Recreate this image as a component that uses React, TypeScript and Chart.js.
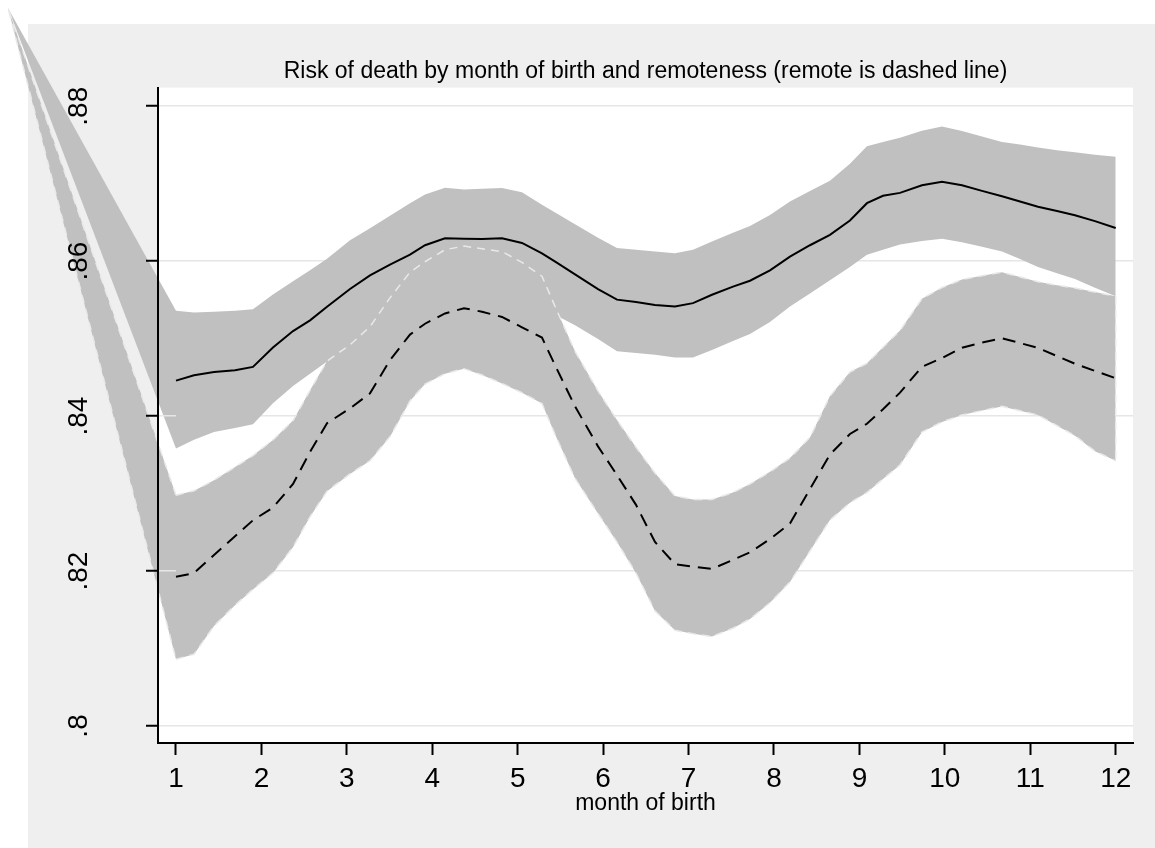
import React, { useEffect, useRef } from 'react';
import { Chart, registerables } from 'chart.js';

Chart.register(...registerables);

const FONT_FAMILY = '"Liberation Sans", Arial, Helvetica, sans-serif';

const TITLE = 'Risk of death by month of birth and remoteness (remote is dashed line)';
const X_AXIS_TITLE = 'month of birth';

const X_TICKS = [1, 2, 3, 4, 5, 6, 7, 8, 9, 10, 11, 12];
const Y_TICKS = [0.8, 0.82, 0.84, 0.86, 0.88];
const Y_TICK_LABELS = ['.8', '.82', '.84', '.86', '.88'];

const MONTHS = [
  1.0, 1.211, 1.445, 1.691, 1.901, 2.135, 2.37, 2.569, 2.768, 3.037,
  3.271, 3.505, 3.739, 3.915, 4.149, 4.371, 4.582, 4.816, 5.05, 5.284,
  5.448, 5.671, 5.94, 6.162, 6.385, 6.607, 6.841, 7.052, 7.274, 7.52,
  7.719, 7.953, 8.187, 8.421, 8.655, 8.889, 9.088, 9.276, 9.475, 9.732,
  9.967, 10.201, 10.435, 10.669, 10.88, 11.09, 11.313, 11.523, 11.757, 12.0,
];

// not remote (solid line) and its confidence band
const RURAL_MEAN = [
  0.84458, 0.84526, 0.8457, 0.84591, 0.84635, 0.84884, 0.85097, 0.85236, 0.85412, 0.85641,
  0.85815, 0.85954, 0.86084, 0.86205, 0.86294, 0.8629, 0.86285, 0.86294, 0.86235, 0.86101,
  0.85987, 0.8583, 0.85639, 0.85503, 0.85471, 0.85435, 0.85414, 0.85458, 0.85566, 0.85671,
  0.85747, 0.85881, 0.86058, 0.86205, 0.86339, 0.86525, 0.86748, 0.86844, 0.86881, 0.86979,
  0.87023, 0.86979, 0.86907, 0.86837, 0.8677, 0.86703, 0.86648, 0.86592, 0.86516, 0.86428,
];
const RURAL_UPPER = [
  0.8536, 0.85338, 0.85348, 0.85361, 0.85378, 0.85569, 0.85739, 0.85881, 0.86032, 0.8627,
  0.86426, 0.86585, 0.86748, 0.86859, 0.86948, 0.86926, 0.86934, 0.86943, 0.86889, 0.86728,
  0.86621, 0.86477, 0.86303, 0.86169, 0.86147, 0.86123, 0.86103, 0.86147, 0.86254, 0.86365,
  0.86452, 0.86594, 0.8677, 0.86906, 0.87036, 0.87257, 0.87484, 0.87538, 0.87592, 0.87683,
  0.87739, 0.8768, 0.8761, 0.87539, 0.87505, 0.87468, 0.87431, 0.87404, 0.87374, 0.87348,
];
const RURAL_LOWER = [
  0.83582, 0.83693, 0.83794, 0.83846, 0.83893, 0.84165, 0.84387, 0.84547, 0.84706, 0.8488,
  0.8511, 0.85283, 0.85413, 0.85535, 0.85626, 0.85619, 0.85613, 0.85619, 0.85561, 0.85432,
  0.85303, 0.85173, 0.84994, 0.84836, 0.84813, 0.8479, 0.84756, 0.84756, 0.84854, 0.84968,
  0.85058, 0.85214, 0.85414, 0.85583, 0.85754, 0.85925, 0.86083, 0.86146, 0.86214, 0.86259,
  0.8629, 0.86245, 0.86185, 0.86125, 0.86026, 0.85925, 0.85845, 0.8577, 0.85655, 0.85547,
];

// remote (dashed line) and its confidence band
const REMOTE_MEAN = [
  0.81925, 0.81974, 0.82206, 0.82448, 0.82655, 0.82819, 0.83123, 0.83538, 0.83908, 0.84099,
  0.84293, 0.84723, 0.85052, 0.85192, 0.85325, 0.85392, 0.85347, 0.8528, 0.85146, 0.85013,
  0.84632, 0.84124, 0.83609, 0.83239, 0.82854, 0.82374, 0.82088, 0.82057, 0.82026, 0.82145,
  0.82241, 0.82413, 0.82613, 0.83058, 0.83502, 0.83769, 0.83901, 0.84088, 0.84302, 0.84637,
  0.84748, 0.84883, 0.8495, 0.85005, 0.84943, 0.8488, 0.84774, 0.84676, 0.84583, 0.84489,
];
const REMOTE_UPPER = [
  0.82977, 0.83037, 0.83173, 0.83343, 0.8349, 0.83692, 0.83943, 0.84332, 0.8471, 0.84919,
  0.85154, 0.85526, 0.85858, 0.85992, 0.86147, 0.86194, 0.8616, 0.86123, 0.85983, 0.85805,
  0.85388, 0.84836, 0.84325, 0.8395, 0.83597, 0.83265, 0.82969, 0.82924, 0.82924, 0.83013,
  0.83124, 0.8328, 0.83458, 0.83724, 0.84258, 0.84569, 0.84681, 0.84888, 0.85103, 0.85515,
  0.85659, 0.85763, 0.8581, 0.85858, 0.85796, 0.85734, 0.8569, 0.85652, 0.856, 0.85547,
];
const REMOTE_LOWER = [
  0.80861, 0.80925, 0.8129, 0.81559, 0.81763, 0.81975, 0.82308, 0.827, 0.8303, 0.83253,
  0.83423, 0.83734, 0.84194, 0.84413, 0.84547, 0.84612, 0.8453, 0.84421, 0.84301, 0.84161,
  0.83735, 0.83196, 0.82741, 0.82373, 0.81972, 0.81484, 0.81235, 0.8119, 0.81155, 0.81261,
  0.81381, 0.8159, 0.81857, 0.82257, 0.82657, 0.8288, 0.83013, 0.83187, 0.83369, 0.83792,
  0.83925, 0.84013, 0.84071, 0.84125, 0.8407, 0.84013, 0.83876, 0.83747, 0.83547, 0.83422,
];

const X_MIN = 0.7893;
const X_MAX = 12.2025;
const Y_MIN = 0.7978;
const Y_MAX = 0.8824;

const BAND_COLOR = '#c0c0c0';
const PANEL_COLOR = '#efefef';
const OUTLINE_COLOR = '#e9e9e9';
const GRID_COLOR = '#e6e6e6';

// base canvas size (page is 1155x848 with an 8px offset); plot area right edge and bottom
const BASE_W = 1147;
const BASE_H = 840;
const PLOT_RIGHT = 1125;

const toPoints = (ys: number[]) => MONTHS.map((m, i) => ({ x: m, y: ys[i] }));

const stataPlugin = {
  id: 'stataLook',
  beforeDraw(chart: any) {
    const { ctx, chartArea, width, height } = chart;
    const xs = chart.scales.x;
    const ys = chart.scales.y;
    ctx.save();
    ctx.fillStyle = '#ffffff';
    ctx.fillRect(0, 0, width, height);
    ctx.fillStyle = PANEL_COLOR;
    ctx.fillRect(20, 16, width - 20, height - 16);
    ctx.fillStyle = '#ffffff';
    ctx.fillRect(chartArea.left, chartArea.top, chartArea.right - chartArea.left, chartArea.bottom - chartArea.top);

    // polygon artefact: the band areas are closed through the graph origin
    const x0 = xs.getPixelForValue(MONTHS[0]);
    const wedge = (top: number, bottom: number, outline: boolean) => {
      const yt = ys.getPixelForValue(top);
      const yb = ys.getPixelForValue(bottom);
      ctx.beginPath();
      ctx.moveTo(0, 0);
      ctx.lineTo(x0, yt);
      ctx.lineTo(x0, yb);
      ctx.closePath();
      ctx.fillStyle = BAND_COLOR;
      ctx.fill();
      if (outline) {
        ctx.strokeStyle = OUTLINE_COLOR;
        ctx.lineWidth = 1.5;
        ctx.setLineDash([8, 6]);
        ctx.beginPath();
        ctx.moveTo(x0, yt);
        ctx.lineTo(0, 0);
        ctx.lineTo(x0, yb);
        ctx.stroke();
        ctx.setLineDash([]);
      }
    };
    wedge(RURAL_UPPER[0], RURAL_LOWER[0], false);
    wedge(REMOTE_UPPER[0], REMOTE_LOWER[0], true);
    ctx.restore();
  },
  beforeDatasetsDraw(chart: any) {
    const { ctx } = chart;
    const xs = chart.scales.x;
    const ys = chart.scales.y;
    const n = MONTHS.length - 1;
    const xe = xs.getPixelForValue(MONTHS[n]);
    ctx.save();
    ctx.strokeStyle = OUTLINE_COLOR;
    ctx.lineWidth = 1.5;
    ctx.setLineDash([8, 6]);
    ctx.beginPath();
    ctx.moveTo(xe, ys.getPixelForValue(REMOTE_UPPER[n]));
    ctx.lineTo(xe, ys.getPixelForValue(REMOTE_LOWER[n]));
    ctx.stroke();
    ctx.restore();
  },
};

export default function App() {
  const canvasRef = useRef<HTMLCanvasElement>(null);
  const wrapRef = useRef<HTMLDivElement>(null);

  useEffect(() => {
    const canvas = canvasRef.current;
    if (!canvas) return;
    document.documentElement.style.overflow = 'hidden';
    document.body.style.overflow = 'hidden';
    Chart.defaults.font.family = FONT_FAMILY;
    Chart.defaults.color = '#000000';

    const W = Math.max(BASE_W, Math.round(window.innerWidth) - 8);
    const H = Math.max(BASE_H, Math.round(window.innerHeight) - 8);
    canvas.width = W;
    canvas.height = H;
    canvas.style.width = W + 'px';
    canvas.style.height = H + 'px';
    if (wrapRef.current) {
      wrapRef.current.style.width = W + 'px';
      wrapRef.current.style.height = H + 'px';
    }

    const chart = new Chart(canvas, {
      type: 'line',
      data: {
        datasets: [
          {
            label: 'remote',
            data: toPoints(REMOTE_MEAN),
            borderColor: '#000000',
            borderWidth: 2,
            borderDash: [13, 8],
            pointRadius: 0,
            fill: false,
          },
          {
            label: 'not remote',
            data: toPoints(RURAL_MEAN),
            borderColor: '#000000',
            borderWidth: 2,
            pointRadius: 0,
            fill: false,
          },
          {
            label: 'remote upper',
            data: toPoints(REMOTE_UPPER),
            borderColor: OUTLINE_COLOR,
            borderWidth: 1.5,
            borderDash: [8, 6],
            pointRadius: 0,
            backgroundColor: BAND_COLOR,
            fill: '+1',
          },
          {
            label: 'remote lower',
            data: toPoints(REMOTE_LOWER),
            borderColor: OUTLINE_COLOR,
            borderWidth: 1.5,
            borderDash: [8, 6],
            pointRadius: 0,
            fill: false,
          },
          {
            label: 'not remote upper',
            data: toPoints(RURAL_UPPER),
            borderWidth: 0,
            borderColor: 'rgba(0,0,0,0)',
            pointRadius: 0,
            backgroundColor: BAND_COLOR,
            fill: '+1',
          },
          {
            label: 'not remote lower',
            data: toPoints(RURAL_LOWER),
            borderWidth: 0,
            borderColor: 'rgba(0,0,0,0)',
            pointRadius: 0,
            fill: false,
          },
        ],
      },
      options: {
        responsive: false,
        animation: false,
        events: [],
        layout: { padding: { left: 0, right: W - PLOT_RIGHT, top: 0, bottom: H - BASE_H } },
        plugins: {
          legend: { display: false },
          tooltip: { enabled: false },
          filler: { drawTime: 'beforeDatasetsDraw' },
          title: {
            display: true,
            text: TITLE,
            fullSize: false,
            color: '#000000',
            font: { family: FONT_FAMILY, size: 23, weight: 'normal' },
            padding: { top: 50, bottom: 2 },
          },
        },
        scales: {
          x: {
            type: 'linear',
            min: X_MIN,
            max: X_MAX,
            afterBuildTicks: (axis: any) => {
              axis.ticks = X_TICKS.map((v) => ({ value: v }));
            },
            afterFit: (axis: any) => {
              axis.height = 105;
            },
            grid: {
              drawOnChartArea: false,
              drawTicks: true,
              tickLength: 12,
              tickColor: '#000000',
              tickWidth: 2,
            },
            border: { display: true, color: '#000000', width: 2 },
            ticks: {
              autoSkip: false,
              maxRotation: 0,
              minRotation: 0,
              padding: 7,
              color: '#000000',
              font: { family: FONT_FAMILY, size: 28 },
              callback: (v: any) => String(v),
            },
            title: {
              display: true,
              text: X_AXIS_TITLE,
              color: '#000000',
              font: { family: FONT_FAMILY, size: 23 },
              padding: { top: 0, bottom: 31 },
            },
          },
          y: {
            type: 'linear',
            min: Y_MIN,
            max: Y_MAX,
            afterBuildTicks: (axis: any) => {
              axis.ticks = Y_TICKS.map((v) => ({ value: v }));
            },
            afterFit: (axis: any) => {
              axis.width = 150;
            },
            grid: {
              color: GRID_COLOR,
              lineWidth: 1.5,
              drawOnChartArea: true,
              drawTicks: true,
              tickLength: 12,
              tickColor: '#000000',
              tickWidth: 2,
            },
            border: { display: true, color: '#000000', width: 2 },
            ticks: {
              autoSkip: false,
              minRotation: 90,
              maxRotation: 90,
              crossAlign: 'center',
              padding: 47,
              color: '#000000',
              font: { family: FONT_FAMILY, size: 28 },
              callback: (_v: any, i: number) => Y_TICK_LABELS[i],
            },
          },
        },
      } as any,
      plugins: [stataPlugin],
    });

    return () => chart.destroy();
  }, []);

  return (
    <div ref={wrapRef} style={{ position: 'fixed', left: 8, top: 8, width: BASE_W, height: BASE_H }}>
      <canvas
        ref={canvasRef}
        width={BASE_W}
        height={BASE_H}
        style={{ display: 'block', width: BASE_W, height: BASE_H }}
      />
    </div>
  );
}
